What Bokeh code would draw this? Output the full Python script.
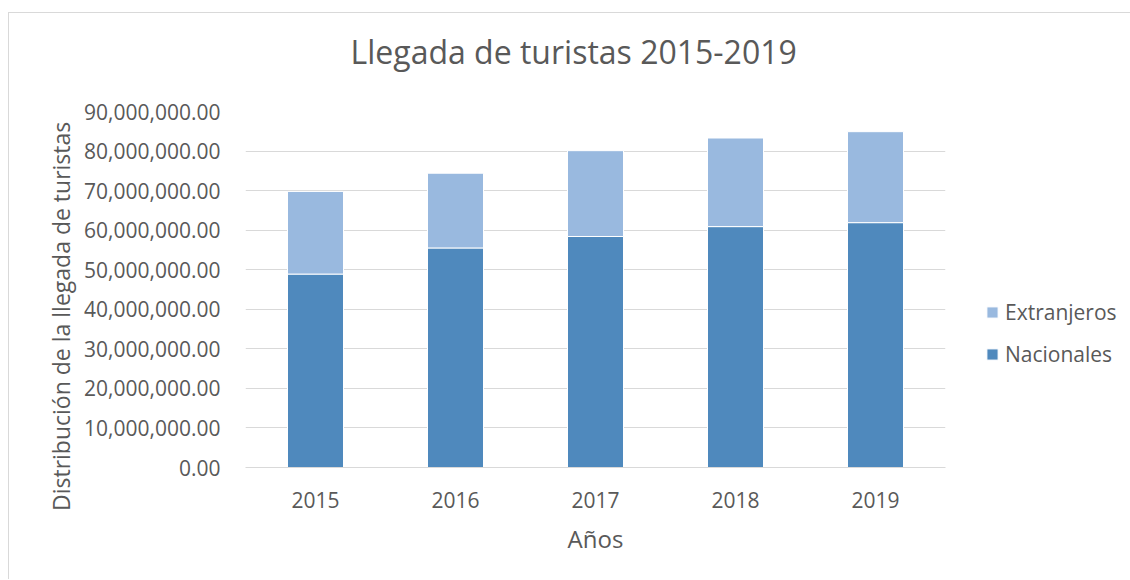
from bokeh.plotting import figure
from bokeh.models import (FactorRange, Range1d, SingleIntervalTicker, NumeralTickFormatter,
                          Legend, LegendItem, Title)
from bokeh.embed import file_html
from bokeh.resources import INLINE

years = ["2015", "2016", "2017", "2018", "2019"]
nacionales = [48.9e6, 55.5e6, 58.4e6, 60.9e6, 61.9e6]
extranjeros = [20.9e6, 18.9e6, 21.7e6, 22.4e6, 23.0e6]

C_NAC = "#4f89bd"
C_EXT = "#99b9df"
TXT = "#595959"
GRID = "#d9d9d9"
FONT = "Open Sans"

p = figure(frame_width=700, frame_height=356, x_range=FactorRange(*years, range_padding=0),
           y_range=Range1d(0, 90e6), output_backend="svg", toolbar_location=None,
           min_border_left=236, min_border_right=184, min_border_top=98, min_border_bottom=112)
p.title = None
p.styles = {"border-left": "1px solid #d9d9d9", "border-top": "1px solid #d9d9d9",
            "margin-top": "12px", "margin-left": "8px"}

src = dict(years=years, nacionales=nacionales, extranjeros=extranjeros)
r = p.vbar_stack(["nacionales", "extranjeros"], x="years", width=0.4, source=src,
                 color=[C_NAC, C_EXT], line_color="white", line_width=1)

p.outline_line_color = None
p.xgrid.grid_line_color = None
p.ygrid.grid_line_color = GRID
p.ygrid.grid_line_width = 1

p.yaxis.ticker = SingleIntervalTicker(interval=10e6)
p.yaxis.formatter = NumeralTickFormatter(format="0,0.00")
p.yaxis.axis_line_color = None
p.yaxis.major_tick_line_color = None
p.yaxis.minor_tick_line_color = None
p.yaxis.major_label_standoff = 19
# trailing no-break spaces shift the rotated label down, as in the reference
p.yaxis.axis_label = "Distribución de la llegada de turistas" + "\u00a0" * 9
p.yaxis.axis_label_standoff = 4

p.xaxis.axis_line_color = GRID
p.xaxis.axis_line_width = 1
p.xaxis.major_tick_line_color = None
p.xaxis.minor_tick_line_color = None
p.xaxis.major_label_standoff = 18
p.xaxis.axis_label = "Años"
p.xaxis.axis_label_standoff = 11

for ax in (p.xaxis[0], p.yaxis[0]):
    ax.major_label_text_font = FONT
    ax.major_label_text_font_size = "21px"
    ax.major_label_text_color = TXT
    ax.axis_label_text_font = FONT
    ax.axis_label_text_font_size = "24px"
    ax.axis_label_text_font_style = "normal"
    ax.axis_label_text_color = TXT
p.yaxis.axis_label_text_font_size = "23px"

spacer = Title(text=" ", text_font_size="1px", standoff=36)
p.add_layout(spacer, "above")
t = Title(text="Llegada de turistas 2015-2019", align="left", offset=105, standoff=0,
          text_font=FONT, text_font_size="32px", text_font_style="normal", text_color=TXT)
p.add_layout(t, "above")

legend = Legend(items=[LegendItem(label="Extranjeros", renderers=[r[1]]),
                       LegendItem(label="Nacionales", renderers=[r[0]])],
                location=(40, 99), orientation="vertical",
                glyph_width=14, glyph_height=14, label_standoff=6, spacing=14,
                padding=0, margin=0, border_line_color=None, background_fill_alpha=0,
                label_text_font=FONT, label_text_font_size="21px", label_text_color=TXT)
p.add_layout(legend, "right")

open("out.html", "w").write(file_html(p, INLINE))
